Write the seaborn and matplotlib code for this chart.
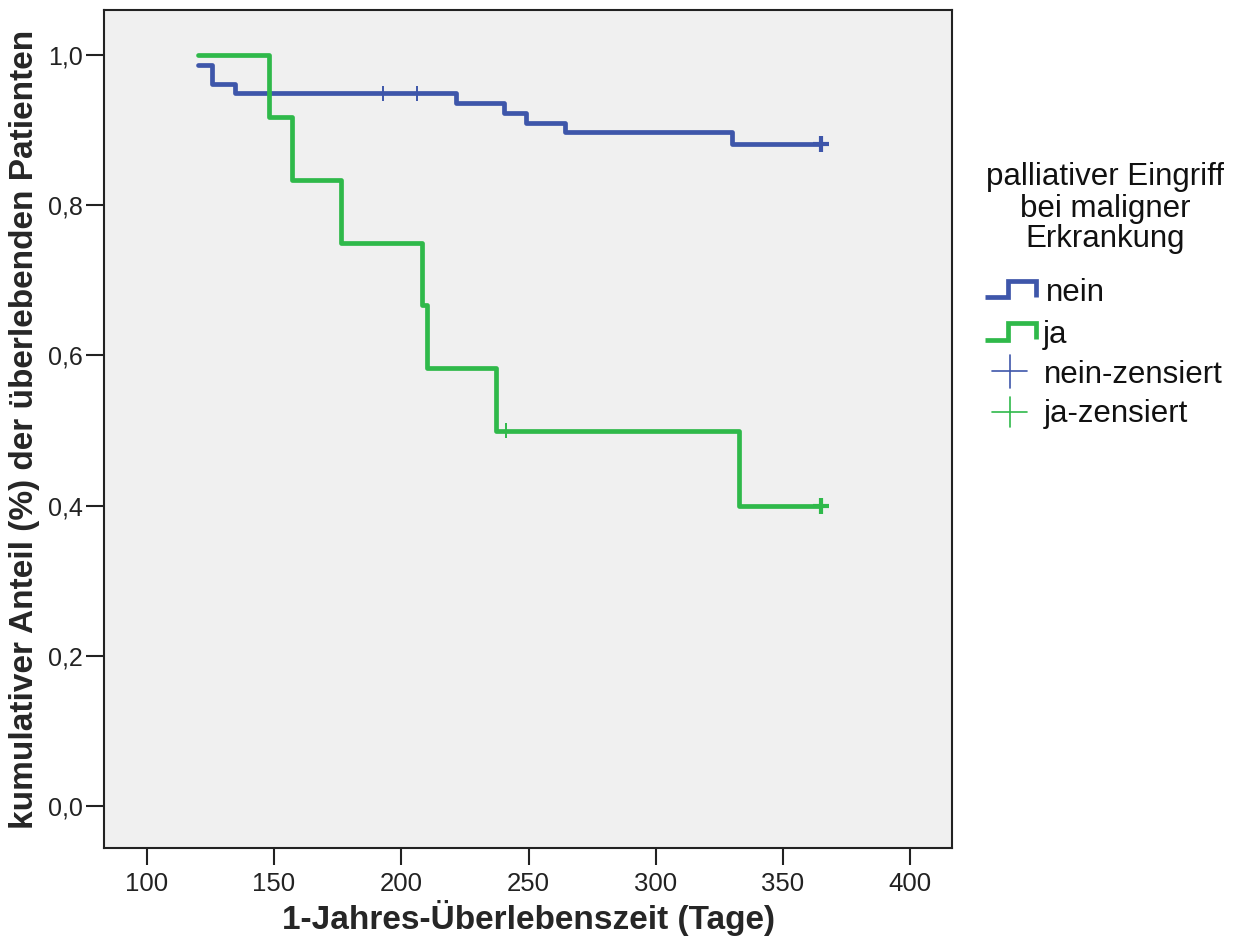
import numpy as np
import pandas as pd
import matplotlib
matplotlib.use("Agg")
import matplotlib.pyplot as plt
import seaborn as sns
from matplotlib.lines import Line2D
from matplotlib.ticker import FuncFormatter, FixedLocator

# ---------------- data ----------------
groups = ["nein", "ja"]
nein_time = [120.0, 125.5, 134.7, 221.4, 240.3, 249.1, 264.4, 330.0, 365.0]
nein_surv = [0.987, 0.962, 0.949, 0.936, 0.923, 0.910, 0.897, 0.882, 0.882]
ja_time = [120.0, 148.0, 157.1, 176.3, 208.0, 210.1, 237.4, 332.8, 365.0]
ja_surv = [1.000, 0.917, 0.833, 0.750, 0.667, 0.583, 0.500, 0.400, 0.400]

nein_cens_time = [192.9, 206.0]
nein_cens_surv = [0.949, 0.949]
ja_cens_time = [241.0]
ja_cens_surv = [0.500]
end_cens_time = [365.0, 365.0]
end_cens_surv = [0.882, 0.400]
end_cens_group = ["nein", "ja"]

x_ticks = [100, 150, 200, 250, 300, 350, 400]
y_ticks = [0.0, 0.2, 0.4, 0.6, 0.8, 1.0]

legend_title = ["palliativer Eingriff", "bei maligner", "Erkrankung"]
legend_labels = ["nein", "ja", "nein-zensiert", "ja-zensiert"]

x_label = "1-Jahres-Überlebenszeit (Tage)"
y_label = "kumulativer Anteil (%) der überlebenden Patienten"

# ---------------- style ----------------
sns.set_style("ticks")
plt.rcParams["font.family"] = ["Liberation Sans", "DejaVu Sans"]

BLUE = "#3E56AA"
GREEN = "#2FB94A"
palette = {"nein": BLUE, "ja": GREEN}

W, H = 1248, 943
fig = plt.figure(figsize=(W / 100, H / 100), dpi=100)
fig.patch.set_facecolor("white")

L, R, T, B = 104, 952, 10, 848
ax = fig.add_axes([L / W, 1 - B / H, (R - L) / W, (B - T) / H])
ax.set_facecolor("#F0F0F0")

curves = pd.DataFrame({
    "t": nein_time + ja_time,
    "s": nein_surv + ja_surv,
    "g": ["nein"] * len(nein_time) + ["ja"] * len(ja_time),
})
sns.lineplot(data=curves, x="t", y="s", hue="g", palette=palette,
             drawstyle="steps-post", estimator=None, sort=False,
             linewidth=3.4, legend=False, ax=ax)

cens = pd.DataFrame({
    "t": nein_cens_time + ja_cens_time,
    "s": nein_cens_surv + ja_cens_surv,
    "g": ["nein"] * len(nein_cens_time) + ["ja"] * len(ja_cens_time),
})
sns.scatterplot(data=cens, x="t", y="s", hue="g", palette=palette,
                marker="+", s=110, linewidth=1.4, legend=False, ax=ax, zorder=3)

cens_end = pd.DataFrame({"t": end_cens_time, "s": end_cens_surv, "g": end_cens_group})
sns.scatterplot(data=cens_end, x="t", y="s", hue="g", palette=palette,
                marker="+", s=130, linewidth=3.0, legend=False, ax=ax, zorder=3)

ax.set_xlim(83.2, 416.4)
ax.set_ylim(-0.056, 1.06)
ax.xaxis.set_major_locator(FixedLocator(x_ticks))
ax.yaxis.set_major_locator(FixedLocator(y_ticks))
ax.yaxis.set_major_formatter(FuncFormatter(lambda v, p: f"{v:.1f}".replace(".", ",")))
ax.xaxis.set_major_formatter(FuncFormatter(lambda v, p: f"{int(v)}"))

ax.tick_params(axis="x", length=12, width=1.5, pad=5, labelsize=18.5, colors="#222222")
ax.tick_params(axis="y", length=13, width=1.5, pad=2, labelsize=18, colors="#222222")
for sp in ax.spines.values():
    sp.set_visible(True)
    sp.set_linewidth(1.5)
    sp.set_color("#222222")

ax.set_xlabel(x_label, fontsize=24, fontweight="bold", va="center")
ax.xaxis.set_label_coords(0.5, (B - 918) / (B - T))
ax.set_ylabel(y_label, fontsize=24, fontweight="bold", va="center")
ax.yaxis.set_label_coords((25 - L) / (R - L), 0.5)


def fx(x):
    return x / W


def fy(y):
    return 1 - y / H


# ---------------- legend (manual) ----------------
for txt, base in zip(legend_title, [185, 216.5, 246.5]):
    fig.text(fx(1105), fy(base), txt, ha="center", va="baseline", fontsize=22.5, color="#111111")

step_shapes = {
    "nein": ([985, 1008, 1008, 1036, 1036], [297, 297, 281, 281, 297]),
    "ja": ([985, 1008, 1008, 1036, 1036], [340, 340, 323, 323, 339]),
}
for g in groups:
    xs, ys = step_shapes[g]
    fig.add_artist(Line2D([fx(v) for v in xs], [fy(v) for v in ys], color=palette[g],
                          linewidth=3.4, solid_joinstyle="miter", solid_capstyle="butt",
                          transform=fig.transFigure))

for g, cy, top, bot in [("nein", 371, 355, 388), ("ja", 412, 397, 427)]:
    fig.add_artist(Line2D([fx(992), fx(1027)], [fy(cy), fy(cy)], color=palette[g],
                          linewidth=1.2, transform=fig.transFigure))
    fig.add_artist(Line2D([fx(1009.5), fx(1009.5)], [fy(top), fy(bot)], color=palette[g],
                          linewidth=1.2, transform=fig.transFigure))

for txt, xx, base in zip(legend_labels, [1046, 1043, 1044, 1044], [301, 343, 383, 422]):
    fig.text(fx(xx), fy(base), txt, ha="left", va="baseline", fontsize=22.5, color="#111111")

fig.savefig("out.png", dpi=100)
